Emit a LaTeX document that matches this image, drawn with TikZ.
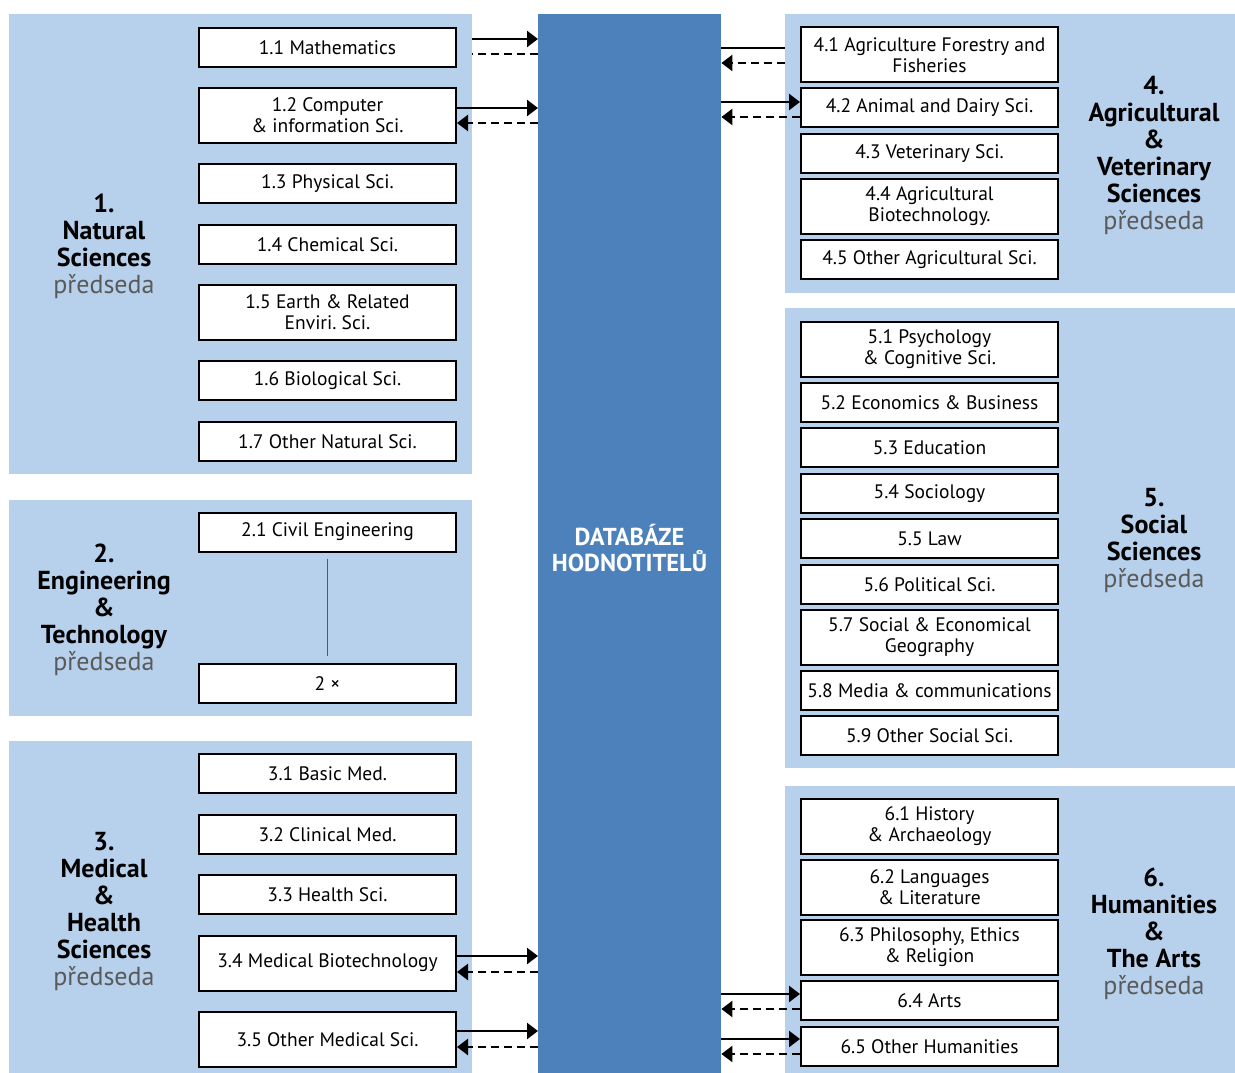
\documentclass[tikz,border=0pt]{standalone}
\usepackage{fontspec}
\setmainfont{PT Sans}
\frenchspacing
\usetikzlibrary{arrows.meta}
\definecolor{panelblue}{RGB}{183,208,235}
\definecolor{dbblue}{RGB}{76,129,188}
\definecolor{chairgray}{RGB}{90,90,90}
\definecolor{linkgray}{RGB}{80,90,105}
\begin{document}
\begin{tikzpicture}[x=1pt,y=-1pt,
    panel/.style={fill=panelblue,draw=none,inner sep=0pt,anchor=north west},
    sub/.style={draw=black,line width=2pt,fill=white,minimum width=257pt,inner sep=0pt,
        align=center,font=\fontsize{19.5}{21}\selectfont},
    one/.style={sub,minimum height=39pt},
    two/.style={sub,minimum height=55pt},
    head/.style={align=center,font=\fontsize{26}{27}\selectfont\bfseries},
    go/.style={line width=2.5pt,-{Triangle[length=11pt,width=16pt]}},
    back/.style={line width=2.5pt,dash pattern=on 8pt off 5pt},
    backto/.style={back,-{Triangle[length=11pt,width=16pt]}}]
\useasboundingbox (0,0) rectangle (1235,1073);

% panels
\node[panel,minimum width=463pt,minimum height=460pt] (p1) at (9,14) {};
\node[panel,minimum width=463pt,minimum height=216pt] (p2) at (9,500) {};
\node[panel,minimum width=463pt,minimum height=332pt] (p3) at (9,741) {};
\node[panel,minimum width=450pt,minimum height=279pt] (p4) at (785,14) {};
\node[panel,minimum width=450pt,minimum height=460pt] (p5) at (785,308) {};
\node[panel,minimum width=450pt,minimum height=287pt] (p6) at (785,786) {};
\node[fill=dbblue,inner sep=0pt,anchor=north west,minimum width=183pt,minimum height=1059pt] (db) at (538,14) {};
\node[align=center,text=white,font=\fontsize{24.5}{26}\selectfont\bfseries] (dbt) at (629.5,548) {DATABÁZE\\HODNOTITELŮ};

% panel titles
\node[head] (h1) at (104,246) {1.\\Natural\\Sciences\\\mdseries\color{chairgray}předseda};
\node[head] (h2) at (104,610) {2.\\Engineering\\\&\\Technology\\\mdseries\color{chairgray}předseda};
\node[head] (h3) at (104,911) {3.\\Medical\\\&\\Health\\Sciences\\\mdseries\color{chairgray}předseda};
\node[head] (h4) at (1154,155) {4.\\Agricultural\\\&\\Veterinary\\Sciences\\\mdseries\color{chairgray}předseda};
\node[head] (h5) at (1154,540) {5.\\Social\\Sciences\\\mdseries\color{chairgray}předseda};
\node[head] (h6) at (1154,934) {6.\\Humanities\\\&\\The Arts\\\mdseries\color{chairgray}předseda};

% 1 natural
\node[one] (b11) at (327.5,47.5) {1.1 Mathematics};
\node[two] (b12) at (327.5,115.5) {1.2 Computer\\\& information Sci.};
\node[one] (b13) at (327.5,183.5) {1.3 Physical Sci.};
\node[one] (b14) at (327.5,244.5) {1.4 Chemical Sci.};
\node[two] (b15) at (327.5,312.5) {1.5 Earth \& Related\\Enviri. Sci.};
\node[one] (b16) at (327.5,380.5) {1.6 Biological Sci.};
\node[one] (b17) at (327.5,441.5) {1.7 Other Natural Sci.};
% 2 engineering
\node[one] (b21) at (327.5,532) {2.1 Civil Engineering};
\node[one] (b2x) at (327.5,683.5) {2 ×};
\draw[linkgray,line width=1.3pt] ([yshift=-6pt]b21.south) -- ([yshift=7pt]b2x.north);
% 3 medical
\node[one] (b31) at (327.5,773.5) {3.1 Basic Med.};
\node[one] (b32) at (327.5,834.5) {3.2 Clinical Med.};
\node[one] (b33) at (327.5,894.5) {3.3 Health Sci.};
\node[two] (b34) at (327.5,963) {3.4 Medical Biotechnology};
\node[two] (b35) at (327.5,1039.5) {3.5 Other Medical Sci.};
% 4 agricultural
\node[two] (b41) at (929.5,55) {4.1 Agriculture Forestry and\\Fisheries};
\node[one] (b42) at (929.5,107.5) {4.2 Animal and Dairy Sci.};
\node[one] (b43) at (929.5,153.5) {4.3 Veterinary Sci.};
\node[two] (b44) at (929.5,206) {4.4 Agricultural\\Biotechnology.};
\node[one] (b45) at (929.5,259.5) {4.5 Other Agricultural Sci.};
% 5 social
\node[two] (b51) at (929.5,349) {5.1 Psychology\\\& Cognitive Sci.};
\node[one] (b52) at (929.5,402.5) {5.2 Economics \& Business};
\node[one] (b53) at (929.5,447.5) {5.3 Education};
\node[one] (b54) at (929.5,493.5) {5.4 Sociology};
\node[one] (b55) at (929.5,538.5) {5.5 Law};
\node[one] (b56) at (929.5,584.5) {5.6 Political Sci.};
\node[two] (b57) at (929.5,637) {5.7 Social \& Economical\\Geography};
\node[one] (b58) at (929.5,690.5) {5.8 Media \& communications};
\node[one] (b59) at (929.5,735.5) {5.9 Other Social Sci.};
% 6 humanities
\node[two] (b61) at (929.5,826.5) {6.1 History\\\& Archaeology};
\node[two] (b62) at (929.5,887) {6.2 Languages\\\& Literature};
\node[two] (b63) at (929.5,947.5) {6.3 Philosophy, Ethics\\\& Religion};
\node[one] (b64) at (929.5,1000.5) {6.4 Arts};
\node[one] (b65) at (929.5,1046.5) {6.5 Other Humanities};

% links to the database
\draw[go] ([yshift=8.5pt]b11.east -| p1.east) -- ([yshift=8.5pt]b11.east -| db.west);
\draw[back] ([yshift=-6.5pt]b11.east -| db.west) -- ([yshift=-6.5pt]b11.east -| p1.east);
\draw[go] ([yshift=7.5pt]b12.east) -- ([yshift=7.5pt]b12.east -| db.west);
\draw[backto] ([yshift=-7.5pt]b12.east -| db.west) -- ([yshift=-7.5pt]b12.east);
\draw[go] ([yshift=7pt]b34.east) -- ([yshift=7pt]b34.east -| db.west);
\draw[backto] ([yshift=-9pt]b34.east -| db.west) -- ([yshift=-9pt]b34.east);
\draw[go] ([yshift=8.5pt]b35.east) -- ([yshift=8.5pt]b35.east -| db.west);
\draw[backto] ([yshift=-7.5pt]b35.east -| db.west) -- ([yshift=-7.5pt]b35.east);
\draw[line width=2.5pt] ([yshift=7pt]b41.west -| db.east) -- ([yshift=7pt]b41.west -| p4.west);
\draw[backto] ([yshift=-8pt]b41.west -| p4.west) -- ([yshift=-8pt]b41.west -| db.east);
\draw[go] ([yshift=5.5pt]b42.west -| db.east) -- ([yshift=5.5pt]b42.west);
\draw[backto] ([yshift=-9.5pt]b42.west) -- ([yshift=-9.5pt]b42.west -| db.east);
\draw[go] ([yshift=6.5pt]b64.west -| db.east) -- ([yshift=6.5pt]b64.west);
\draw[backto] ([yshift=-8.5pt]b64.west) -- ([yshift=-8.5pt]b64.west -| db.east);
\draw[go] ([yshift=7.5pt]b65.west -| db.east) -- ([yshift=7.5pt]b65.west);
\draw[backto] ([yshift=-7.5pt]b65.west) -- ([yshift=-7.5pt]b65.west -| db.east);
\end{tikzpicture}
\end{document}
